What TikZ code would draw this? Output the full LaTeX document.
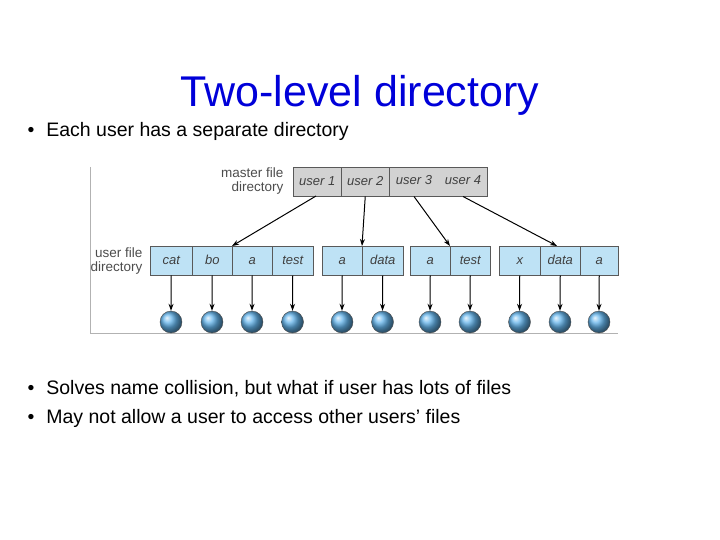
\documentclass[tikz,border=0pt]{standalone}
\usepackage{fontspec}
\usetikzlibrary{arrows.meta}
\setmainfont{Liberation Sans}
\definecolor{cellblue}{RGB}{190,226,245}
\definecolor{ballblue}{RGB}{100,180,235}
\begin{document}
\begin{tikzpicture}[x=1pt,y=-1pt,
 cellfont/.style={font=\itshape\fontsize{13}{15}\selectfont,text=black!75,text height=9.5pt,text depth=2.5pt},
 cell/.style={cellfont,draw=gray!70!black,line width=0.5pt,fill=cellblue,anchor=north west,minimum height=29pt,inner sep=0pt},
 mcell/.style={cellfont,draw=gray!70!black,line width=0.5pt,fill=gray!35,anchor=north west,minimum height=29pt,inner sep=0pt},
 fileball/.style={circle,draw=gray!60!black,minimum size=22pt,inner sep=0pt,ball color=ballblue},
 arr/.style={-{Stealth[length=7pt,width=5pt]},line width=1pt},
 lbl/.style={font=\fontsize{13.5}{14}\selectfont,align=right,text=black!70,anchor=east},
 bul/.style={font=\fontsize{19.5}{22}\selectfont,anchor=west}]
\useasboundingbox (0,0) rectangle (720,540);
\node[font=\fontsize{43}{48}\selectfont,text=blue!85!black] (title) at (360,95) {Two-level directory};
\node[bul] (b1) at (24,131) {•\hspace{12pt}Each user has a separate directory};
\node[bul] (b2) at (24,389) {•\hspace{12pt}Solves name collision, but what if user has lots of files};
\node[bul] (b3) at (24,418) {•\hspace{12pt}May not allow a user to access other users’ files};
\draw[gray!60] (90,167) -- (90,333) -- (618,333);
\node[lbl] (ml) at (287,181) {master file\\directory};
\node[lbl] (ul) at (146,261) {user file\\directory};
% master
\node[mcell,minimum width=48pt] (u1) at (293,167) {user 1};
\node[mcell,minimum width=48pt] (u2) at (341,167) {user 2};
\node[mcell,minimum width=98pt] (u34) at (389,167) {};
\node[cellfont] (u3) at (414,181.5) {user 3};
\node[cellfont] (u4) at (463,181.5) {user 4};
% user dirs
\foreach \n/\x/\w/\t in {c1/150/42/cat,c2/192/40/bo,c3/232/40/a,c4/272/41/test,
 d1/322/40/a,d2/362/41/data,e1/410/40/a,e2/450/40/test,f1/499/41/x,f2/540/40/data,f3/580/38/a}{
 \node[cell,minimum width=\w pt] (\n) at (\x,246) {\t};
 \node[fileball] (b\n) at ({\x+\w/2},322) {};
 \draw[arr] (\n.south) -- (b\n.north);
}
\draw[arr] (316,196) -- (c3.north west);
\draw[arr] (u2.south) -- (d2.north west);
\draw[arr] (u3.south |- u34.south) -- (e2.north west);
\draw[arr] (u4.south |- u34.south) -- (557,246);
\end{tikzpicture}
\end{document}
